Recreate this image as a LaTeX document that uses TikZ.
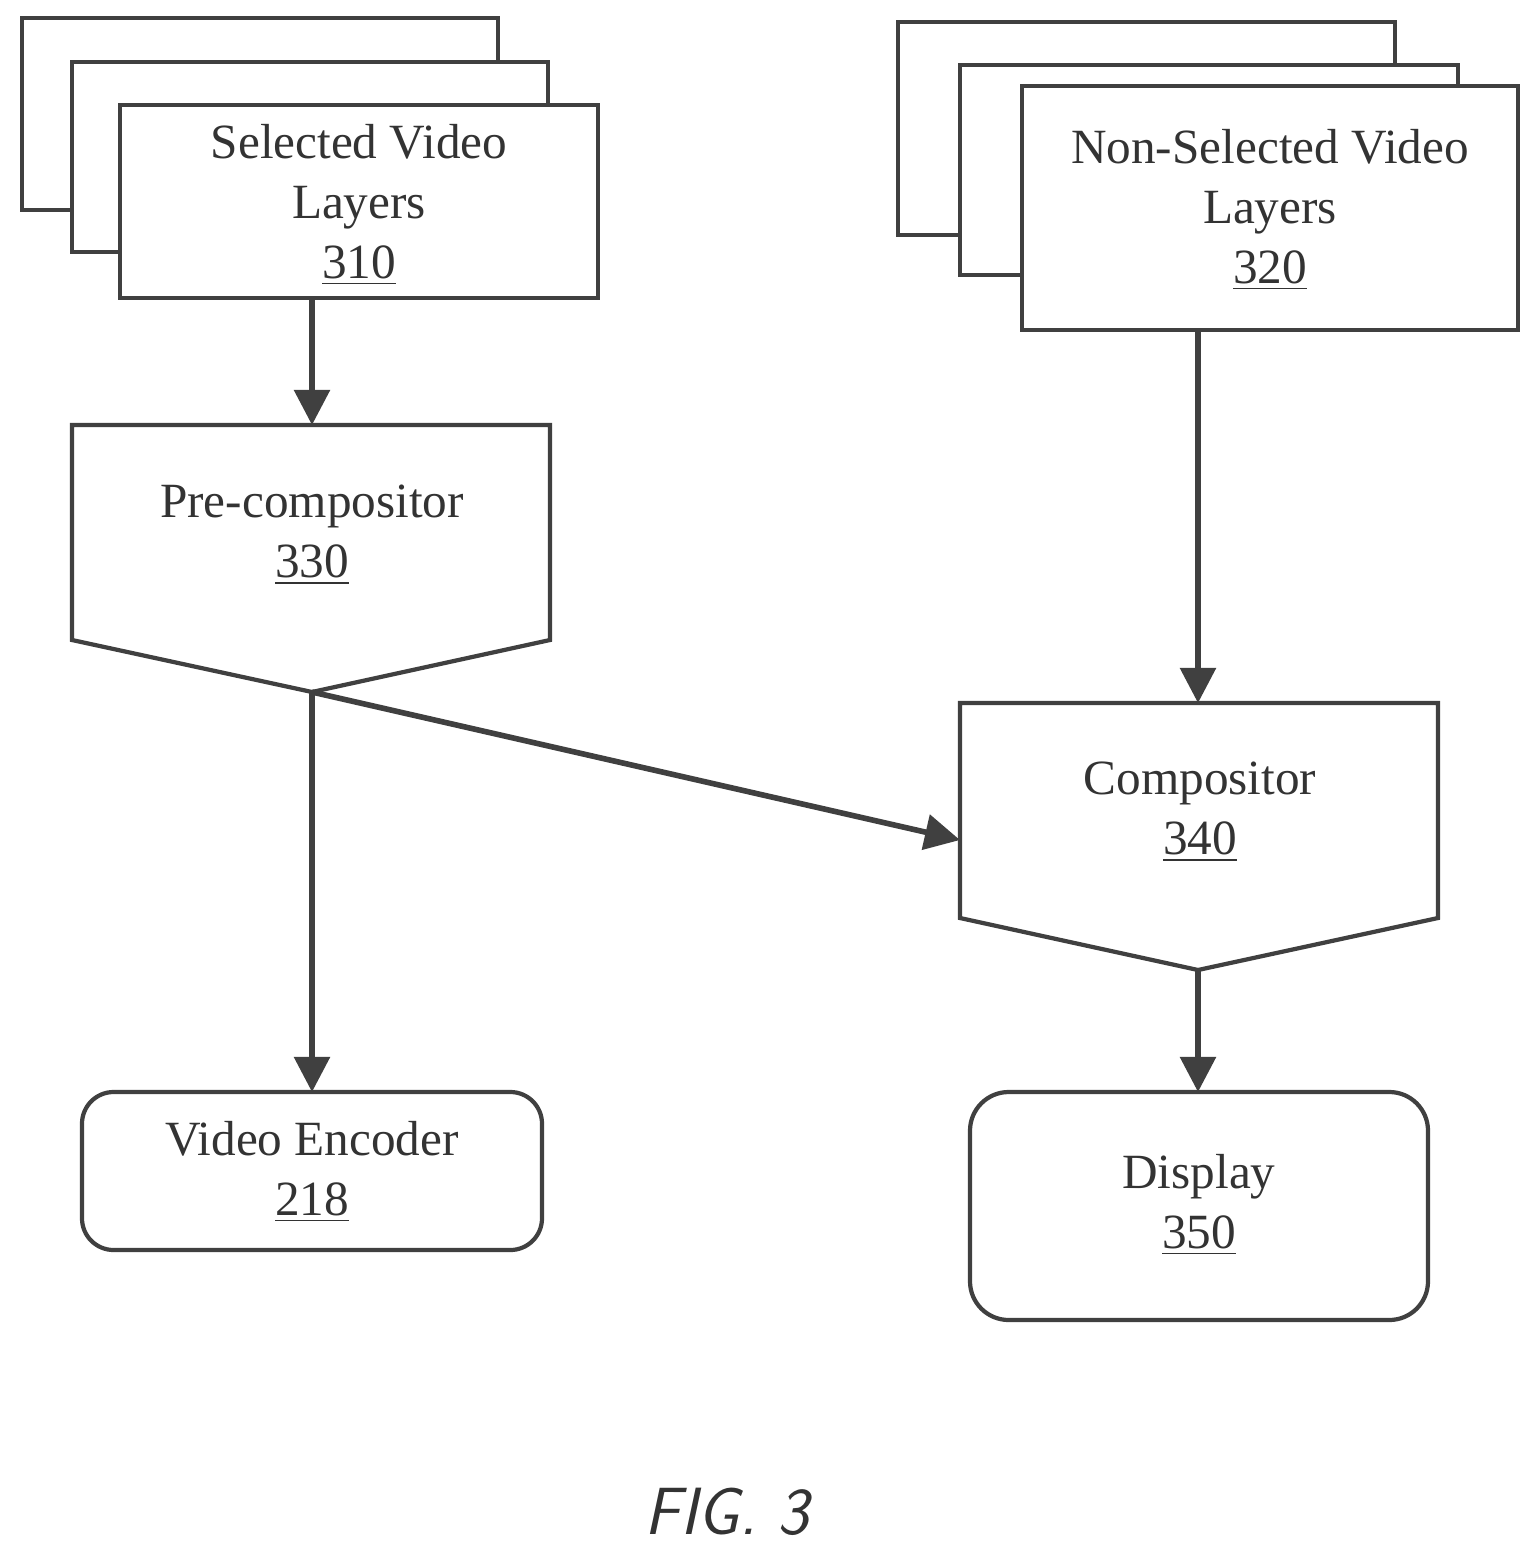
\documentclass[tikz,border=0pt]{standalone}
\usepackage{fontspec}
\setmainfont{Liberation Serif}
\usetikzlibrary{arrows.meta}
\tikzset{layer box/.style={draw=black!75,line width=1.2pt,fill=white},
  txt/.style={align=center,font=\fontsize{14}{17}\selectfont,text=black!80},
  flow/.style={draw=black!75,line width=1.6pt,-{Triangle[length=10pt,width=10pt]}}}
\newcommand{\refnum}[1]{\underline{#1}}
\begin{document}
\begin{tikzpicture}[x=0.01cm,y=-0.01cm]
\useasboundingbox (0,0) rectangle (1540,1560);
% selected layers
\draw[layer box] (22,18) rectangle (498,210);
\draw[layer box] (72,62) rectangle (548,252);
\draw[layer box] (120,105) rectangle (598,298);
\node[txt] (sel) at (359,205) {Selected Video\\Layers\\\refnum{310}};
% non-selected layers
\draw[layer box] (898,22) rectangle (1395,235);
\draw[layer box] (960,65) rectangle (1458,275);
\draw[layer box] (1022,86) rectangle (1518,330);
\node[txt] (nonsel) at (1270,210) {Non-Selected Video\\Layers\\\refnum{320}};
% compositors
\draw[layer box] (72,425) -- (550,425) -- (550,640) -- (312,692) -- (72,640) -- cycle;
\node[txt] (pre) at (312,535) {Pre-compositor\\\refnum{330}};
\draw[layer box] (960,703) -- (1438,703) -- (1438,918) -- (1198,970) -- (960,918) -- cycle;
\node[txt] (comp) at (1200,812) {Compositor\\\refnum{340}};
% sinks
\draw[layer box,rounded corners=9pt] (82,1092) rectangle (542,1250);
\node[txt] (enc) at (312,1172) {Video Encoder\\\refnum{218}};
\draw[layer box,rounded corners=11pt] (970,1092) rectangle (1428,1320);
\node[txt] (disp) at (1199,1205) {Display\\\refnum{350}};
\coordinate (selB) at (312,298);
\coordinate (preT) at (312,425);
\coordinate (preB) at (312,692);
\coordinate (nonB) at (1198,330);
\coordinate (compT) at (1198,703);
\coordinate (compL) at (960,840);
\coordinate (compB) at (1198,970);
\coordinate (encT) at (312,1092);
\coordinate (dispT) at (1198,1092);
\draw[flow] (selB) -- (preT);
\draw[flow] (nonB) -- (compT);
\draw[flow] (preB) -- (encT);
\draw[flow] (preB) -- (compL);
\draw[flow] (compB) -- (dispT);
\node[font=\sffamily\itshape\fontsize{19}{23}\selectfont,text=black!80] (fig) at (727,1512) {FIG. 3};
\end{tikzpicture}
\end{document}
